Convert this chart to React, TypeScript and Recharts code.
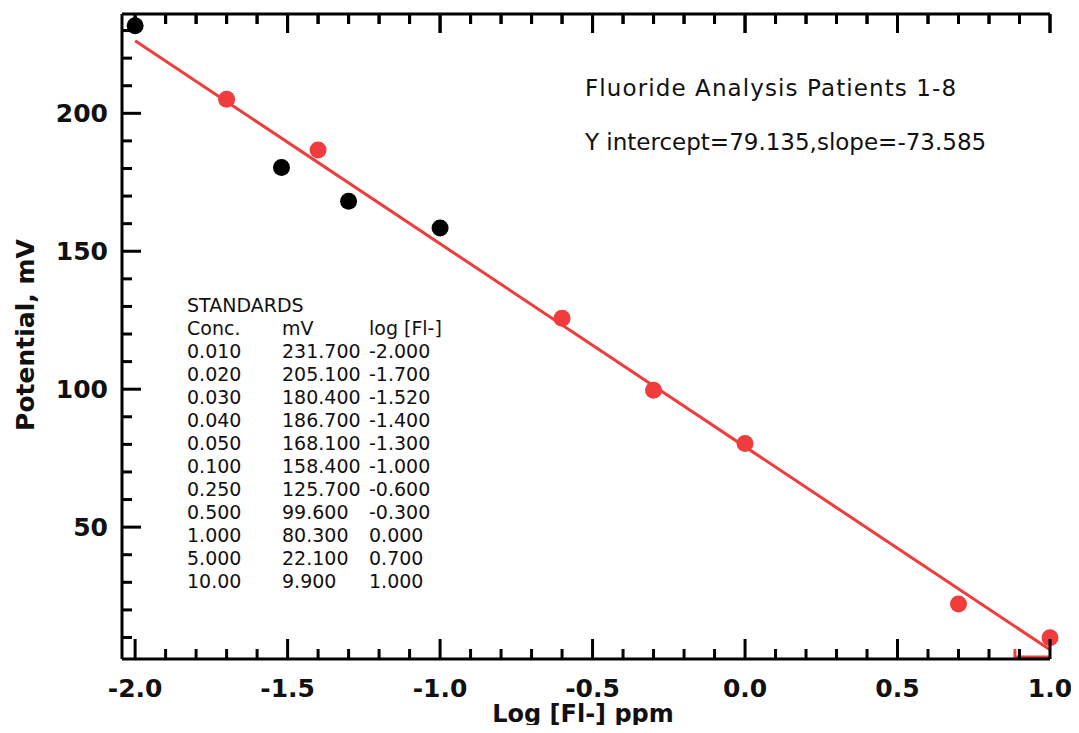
import {
  ReferenceLine,
  Scatter,
  ScatterChart,
  XAxis,
  YAxis,
} from 'recharts'

// standards table
const concLabels = ['0.010', '0.020', '0.030', '0.040', '0.050', '0.100', '0.250', '0.500', '1.000', '5.000', '10.00']
const mvValues = [231.7, 205.1, 180.4, 186.7, 168.1, 158.4, 125.7, 99.6, 80.3, 22.1, 9.9]
const logValues = [-2.0, -1.7, -1.52, -1.4, -1.3, -1.0, -0.6, -0.3, 0.0, 0.7, 1.0]
// black points are the ones left out of the fit
const excluded = [true, false, true, false, true, true, false, false, false, false, false]

// fitted line end points (Y intercept=79.135, slope=-73.585)
const fitX = [-2.0, 1.0]
const fitY = [226.3, 5.55]

const xTicks = [
  -2.0, -1.9, -1.8, -1.7, -1.6, -1.5, -1.4, -1.3, -1.2, -1.1, -1.0, -0.9, -0.8, -0.7, -0.6,
  -0.5, -0.4, -0.3, -0.2, -0.1, 0.0, 0.1, 0.2, 0.3, 0.4, 0.5, 0.6, 0.7, 0.8, 0.9, 1.0,
]
const xMajor = [-2.0, -1.5, -1.0, -0.5, 0.0, 0.5, 1.0]
const yTicks = [10, 20, 30, 40, 50, 60, 70, 80, 90, 100, 110, 120, 130, 140, 150, 160, 170, 180, 190, 200, 210, 220, 230]
const yMajor = [50, 100, 150, 200]

const X_DOMAIN = [-2.043, 1.0]
const Y_DOMAIN = [2.2, 236]

const RED = '#f03c3c'
const FONT = '"DejaVu Sans", sans-serif'

const allPoints = logValues.map((x, i) => ({ x, y: mvValues[i] }))
const fitPoints = allPoints.filter((_, i) => !excluded[i])
const outPoints = allPoints.filter((_, i) => excluded[i])
const topTickPoints = xTicks.map((x) => ({ x, y: Y_DOMAIN[1] }))

const isMajorX = (v: number) => xMajor.some((m) => Math.abs(m - v) < 1e-6)

function BottomTick(props: any) {
  const { x, y, payload } = props
  const major = isMajorX(payload.value)
  return (
    <g>
      <line x1={x} y1={y} x2={x} y2={y - (major ? 20 : 10)} stroke="#000" strokeWidth={3} />
      {major && (
        <text x={x} y={y + 38} textAnchor="middle" fontFamily={FONT} fontWeight="bold" fontSize={25} fill="#111">
          {Number(payload.value).toFixed(1)}
        </text>
      )}
    </g>
  )
}

function TopTick(props: any) {
  const { x, y, payload } = props
  const major = isMajorX(payload.value)
  return <line x1={x} y1={y} x2={x} y2={y + (major ? 19 : 10)} stroke="#000" strokeWidth={3} />
}

function LeftTick(props: any) {
  const { x, y, payload } = props
  const major = yMajor.includes(payload.value)
  return (
    <g>
      <line x1={x} y1={y} x2={x + (major ? 19 : 10)} y2={y} stroke="#000" strokeWidth={3} />
      {major && (
        <text x={x - 14} y={y + 9} textAnchor="end" fontFamily={FONT} fontWeight="bold" fontSize={25} fill="#111">
          {payload.value}
        </text>
      )}
    </g>
  )
}

const topTickShape = (p: any) => {
  const major = isMajorX(p.payload?.x ?? p.x)
  return <line x1={p.cx} y1={p.cy} x2={p.cx} y2={p.cy + (major ? 19 : 10)} stroke="#000" strokeWidth={3} />
}

const dot = (color: string) => (p: any) => <circle cx={p.cx} cy={p.cy} r={8.5} fill={color} />

export default function App() {
  return (
    <div style={{ position: 'relative', width: 1063, height: 717, fontFamily: FONT, color: '#111' }}>
      <ScatterChart width={1063} height={717} margin={{ top: 5, right: 21, bottom: 36, left: 54 }}>
        <XAxis
          xAxisId="bottom"
          type="number"
          dataKey="x"
          domain={X_DOMAIN}
          ticks={xTicks}
          interval={0}
          height={30}
          tickSize={0}
          tickMargin={0}
          tickLine={false}
          tick={<BottomTick />}
          axisLine={{ stroke: '#000', strokeWidth: 3 }}
        />
        <XAxis
          xAxisId="top"
          orientation="top"
          type="number"
          dataKey="x"
          domain={X_DOMAIN}
          allowDataOverflow
          ticks={xTicks}
          interval={0}
          height={1}
          tickSize={0}
          tickMargin={0}
          tickLine={false}
          tick={<TopTick />}
          axisLine={{ stroke: '#000', strokeWidth: 3 }}
        />
        <YAxis
          type="number"
          dataKey="y"
          domain={Y_DOMAIN}
          allowDataOverflow
          ticks={yTicks}
          interval={0}
          width={60}
          tickSize={0}
          tickMargin={0}
          tickLine={false}
          tick={<LeftTick />}
          axisLine={{ stroke: '#000', strokeWidth: 3 }}
        />

        {/* inward ticks hanging from the top frame */}
        <Scatter xAxisId="bottom" data={topTickPoints} shape={topTickShape} isAnimationActive={false} />

        <ReferenceLine
          xAxisId="bottom"
          segment={[{ x: fitX[0], y: fitY[0] }, { x: fitX[1], y: fitY[1] }]}
          stroke={RED}
          strokeWidth={3}
        />
        <ReferenceLine xAxisId="bottom" segment={[{ x: 0.885, y: 2.9 }, { x: 1.0, y: 2.9 }]} stroke={RED} strokeWidth={3} />
        <ReferenceLine xAxisId="bottom" segment={[{ x: 0.885, y: 2.2 }, { x: 0.885, y: 5.8 }]} stroke={RED} strokeWidth={3} />
        <Scatter xAxisId="bottom" data={fitPoints} shape={dot(RED)} isAnimationActive={false} />
        <Scatter xAxisId="bottom" data={outPoints} shape={dot('#000')} isAnimationActive={false} />
      </ScatterChart>

      <div style={{ position: 'absolute', left: 577, top: 80, transform: 'translateY(-50%)', fontSize: 23, letterSpacing: 1.1, lineHeight: 1, whiteSpace: 'nowrap' }}>
        Fluoride Analysis Patients 1-8
      </div>
      <div style={{ position: 'absolute', left: 577, top: 134, transform: 'translateY(-50%)', fontSize: 23, lineHeight: 1, whiteSpace: 'nowrap' }}>
        Y intercept=79.135,slope=-73.585
      </div>

      <div style={{ position: 'absolute', left: 179, top: 285.5, fontSize: 19, lineHeight: '23px', whiteSpace: 'nowrap' }}>
        <div>STANDARDS</div>
        <div style={{ display: 'flex' }}>
          <span style={{ width: 95 }}>Conc.</span>
          <span style={{ width: 87 }}>mV</span>
          <span>log [Fl-]</span>
        </div>
        {concLabels.map((c, i) => (
          <div key={c} style={{ display: 'flex' }}>
            <span style={{ width: 95 }}>{c}</span>
            <span style={{ width: 87 }}>{mvValues[i].toFixed(3)}</span>
            <span>{logValues[i].toFixed(3).replace('-0.000', '0.000')}</span>
          </div>
        ))}
      </div>

      <div style={{ position: 'absolute', left: 575, top: 707, transform: 'translate(-50%, -50%)', fontSize: 24, fontWeight: 'bold', lineHeight: 0.8, whiteSpace: 'nowrap' }}>
        Log [Fl-] ppm
      </div>
      <div style={{ position: 'absolute', left: 17, top: 327, transform: 'translate(-50%, -50%) rotate(-90deg)', fontSize: 25, fontWeight: 'bold', lineHeight: 1, whiteSpace: 'nowrap' }}>
        Potential, mV
      </div>
    </div>
  )
}
